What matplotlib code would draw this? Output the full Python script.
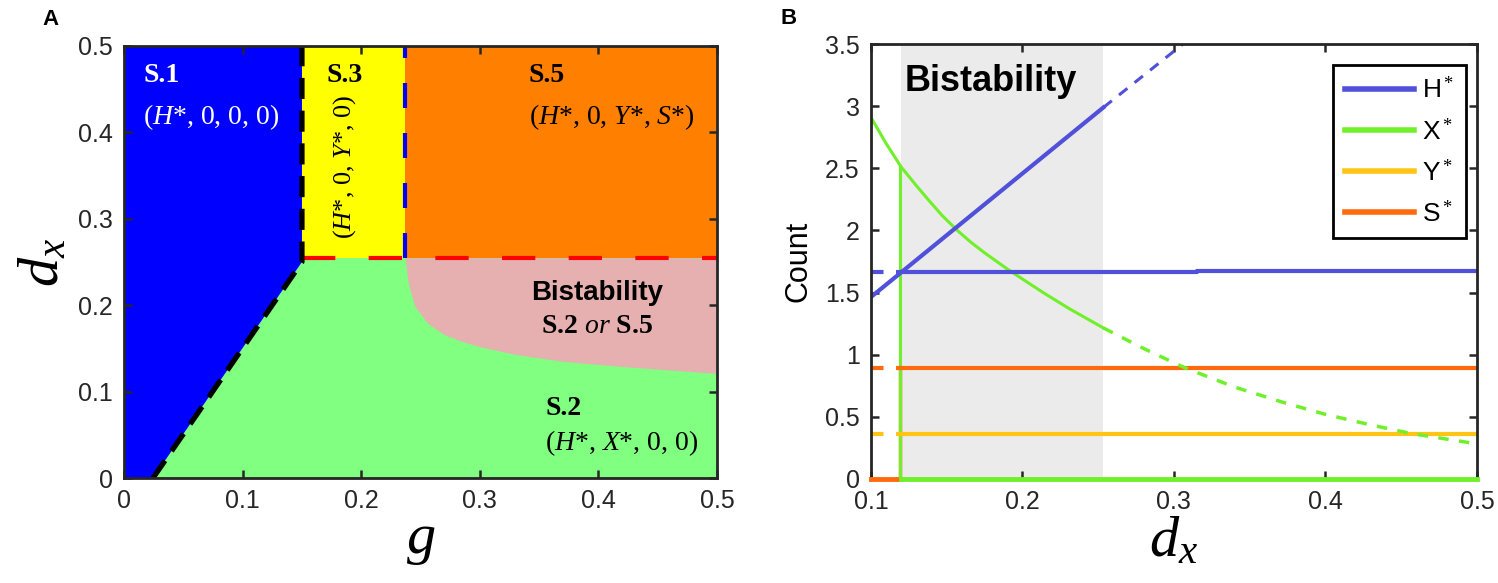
import numpy as np
import matplotlib.pyplot as plt
from matplotlib.ticker import FormatStrFormatter

plt.rcParams['font.family'] = ['Liberation Sans', 'DejaVu Sans']
plt.rcParams['mathtext.fontset'] = 'custom'
plt.rcParams['mathtext.rm'] = 'Liberation Serif'
plt.rcParams['mathtext.it'] = 'Liberation Serif:italic'
plt.rcParams['mathtext.bf'] = 'Liberation Serif:bold'

# ---- panel A data: phase diagram in (g, d_x)
g_left = [0.0244, 0.15]      # S.1 / S.2 boundary (black dashed)
d_left = [0.0, 0.25]
g_s3 = 0.15                  # S.1 / S.3 boundary
g_s5 = 0.237                 # S.3 / S.5 boundary (blue dashed)
d_top = 0.255                # red dashed boundary
g_bist = [0.237, 0.2395, 0.245, 0.256, 0.27, 0.285, 0.30, 0.33, 0.37, 0.42, 0.46, 0.50]
d_bist = [0.255, 0.226, 0.199, 0.179, 0.166, 0.158, 0.152, 0.143, 0.135, 0.129, 0.125, 0.121]

# ---- panel B data: equilibria vs d_x
bist_span = [0.12, 0.2535]
jump = 0.1195

h_rise_x = [0.1, 0.2535]
h_rise = [1.464, 2.99]
h_rise_dash_x = [0.2535, 0.306]
h_rise_dash = [2.99, 3.5]
h_flat_x = [0.12, 0.315, 0.315, 0.5]
h_flat = [1.668, 1.668, 1.676, 1.676]

x_solid_x = [0.1, 0.11, 0.12, 0.13, 0.138, 0.147, 0.157, 0.166, 0.175, 0.19, 0.203, 0.215, 0.231, 0.2535]
x_solid = [2.91, 2.70, 2.51, 2.36, 2.245, 2.12, 2.0, 1.905, 1.82, 1.69, 1.585, 1.49, 1.37, 1.215]
x_dash_x = [0.2535, 0.28, 0.3075, 0.34, 0.3725, 0.4, 0.43, 0.457, 0.5]
x_dash = [1.215, 1.05, 0.893, 0.74, 0.615, 0.52, 0.435, 0.365, 0.283]
x_top = 2.51

y_level = 0.362
s_level = 0.893

c_h, c_x, c_y, c_s = '#5050DA', '#70F02A', '#FFC414', '#FF6A0E'
spine_c = '#262626'

fig = plt.figure(figsize=(14.98, 5.83), dpi=100)
axA = fig.add_axes([0.0828, 0.1801, 0.3959, 0.741])
axB = fig.add_axes([0.5814, 0.1784, 0.4045, 0.7461])

# ---------------- panel A
axA.set_facecolor('#80FF80')
axA.fill([0, g_left[0], g_left[1], g_s3, 0], [0, d_left[0], d_left[1], 0.5, 0.5],
         color='#0000FF', lw=0, zorder=1)
axA.fill_between([g_s3, g_s5], d_top, 0.5, color='#FFFF00', lw=0, zorder=1)
axA.fill_between([g_s5, 0.5], d_top, 0.5, color='#FF8000', lw=0, zorder=1)
axA.fill_between(g_bist, d_bist, d_top, color='#E6B0B0', lw=0, zorder=1)
axA.plot([g_s3, 0.5], [d_top, d_top], color='#FF0000', lw=3, dashes=(8, 8), zorder=3)
axA.plot([g_s5, g_s5], [d_top, 0.5], color='#0000FF', lw=3, dashes=(6, 6), zorder=3)
axA.plot(g_left + [g_s3], d_left + [0.5], color='black', lw=3.8, dashes=(4, 2.2), zorder=4)

serif = 'Liberation Serif'
axA.text(0.016, 0.458, 'S.1', color='white', fontsize=20, family=serif, weight='bold', zorder=5)
axA.text(0.016, 0.41, r'($\mathit{H}$*, 0, 0, 0)', color='white', fontsize=20, family=serif, zorder=5)
axA.text(0.171, 0.458, 'S.3', color='black', fontsize=20, family=serif, weight='bold', zorder=5)
axA.text(0.186, 0.36, r'($\mathit{H}$*, 0, $\mathit{Y}$*, 0)', color='black', fontsize=19,
         family=serif, rotation=90, ha='center', va='center', zorder=5)
axA.text(0.341, 0.458, 'S.5', color='black', fontsize=20, family=serif, weight='bold', zorder=5)
axA.text(0.341, 0.41, r'($\mathit{H}$*, 0, $\mathit{Y}$*, $\mathit{S}$*)', color='black',
         fontsize=20, family=serif, zorder=5)
axA.text(0.399, 0.214, 'Bistability', color='black', fontsize=20, weight='bold',
         ha='center', va='center', zorder=5)
axA.text(0.399, 0.175, r'S.2 $\mathit{or}$ S.5', color='black', fontsize=20, family=serif,
         weight='bold', ha='center', va='center', zorder=5)
axA.text(0.355, 0.081, 'S.2', color='black', fontsize=20, family=serif, weight='bold',
         va='center', zorder=5)
axA.text(0.355, 0.040, r'($\mathit{H}$*, $\mathit{X}$*, 0, 0)', color='black', fontsize=20,
         family=serif, va='center', zorder=5)

axA.set_xlim(0, 0.5)
axA.set_ylim(0, 0.5)
axA.set_xticks(np.arange(0, 0.51, 0.1))
axA.set_yticks(np.arange(0, 0.51, 0.1))
axA.xaxis.set_major_formatter(FormatStrFormatter('%g'))
axA.yaxis.set_major_formatter(FormatStrFormatter('%g'))
axA.set_xlabel(r'$g$', fontsize=42, labelpad=0)
axA.set_ylabel(r'$d_x$', fontsize=42, labelpad=6)

# ---------------- panel B
axB.axvspan(bist_span[0], bist_span[1], color='#EBEBEB', lw=0, zorder=0)

axB.plot([0.1, jump], [0, 0], color=c_s, lw=3.5, zorder=12, clip_on=False)
axB.plot([jump, jump], [0, s_level], color=c_s, lw=2.5, zorder=3)
axB.plot([jump, jump], [0, x_top], color=c_x, lw=2.2, zorder=3)
axB.plot([0.12, 0.5], [0, 0], color=c_x, lw=3.5, zorder=12, clip_on=False)

axB.plot([0.1, 0.12], [s_level, s_level], color=c_s, lw=3, dashes=(3, 3), zorder=3)
axB.plot([0.12, 0.5], [s_level, s_level], color=c_s, lw=3, zorder=3, label=r'S$^*$')
axB.plot([0.1, 0.12], [y_level, y_level], color=c_y, lw=3, dashes=(3, 3), zorder=3)
axB.plot([0.12, 0.5], [y_level, y_level], color=c_y, lw=3, zorder=3, label=r'Y$^*$')

axB.plot(x_solid_x, x_solid, color=c_x, lw=2.2, zorder=4, label=r'X$^*$')
axB.plot(x_dash_x, x_dash, color=c_x, lw=2.5, dashes=(3, 3), zorder=4)

axB.plot(h_rise_x, h_rise, color=c_h, lw=3, zorder=5, label=r'H$^*$')
axB.plot(h_rise_dash_x, h_rise_dash, color=c_h, lw=2.2, dashes=(3.5, 3), zorder=5)
axB.plot([0.1, 0.12], [h_flat[0], h_flat[0]], color=c_h, lw=3, dashes=(3, 3), zorder=5)
axB.plot(h_flat_x, h_flat, color=c_h, lw=3, zorder=5)

axB.text(0.1225, 3.2, 'Bistability', fontsize=26, weight='bold', va='center', zorder=6)

handles, labels = axB.get_legend_handles_labels()
order = [labels.index(l) for l in [r'H$^*$', r'X$^*$', r'Y$^*$', r'S$^*$']]
leg = axB.legend([handles[i] for i in order], [labels[i] for i in order],
                 loc='upper right', bbox_to_anchor=(1 - 11 / 606, 1 - 21 / 435),
                 borderaxespad=0, fontsize=19, handlelength=2.6, labelspacing=0.55,
                 handletextpad=0.3, borderpad=0.45, fancybox=False, framealpha=1)
leg.get_frame().set_edgecolor('black')
leg.get_frame().set_linewidth(2)
for line in leg.get_lines():
    line.set_linewidth(4)

axB.set_xlim(0.1, 0.5)
axB.set_ylim(0, 3.5)
axB.set_xticks(np.arange(0.1, 0.51, 0.1))
axB.set_yticks(np.arange(0, 3.51, 0.5))
axB.xaxis.set_major_formatter(FormatStrFormatter('%g'))
axB.yaxis.set_major_formatter(FormatStrFormatter('%g'))
axB.set_xlabel(r'$d_x$', fontsize=42, labelpad=0)
axB.set_ylabel('Count', fontsize=22, labelpad=8)

for ax in (axA, axB):
    for sp in ax.spines.values():
        sp.set_color(spine_c)
        sp.set_linewidth(2)
        sp.set_zorder(10)
    ax.tick_params(direction='in', length=6, width=1.8, colors=spine_c, labelsize=18,
                   top=True, right=True, pad=8)

fig.text(42 / 1498, 1 - 9 / 583, 'A', fontsize=16, weight='bold', va='top')
fig.text(781 / 1498, 1 - 8 / 583, 'B', fontsize=16, weight='bold', va='top')

fig.savefig('out.png', dpi=100)
